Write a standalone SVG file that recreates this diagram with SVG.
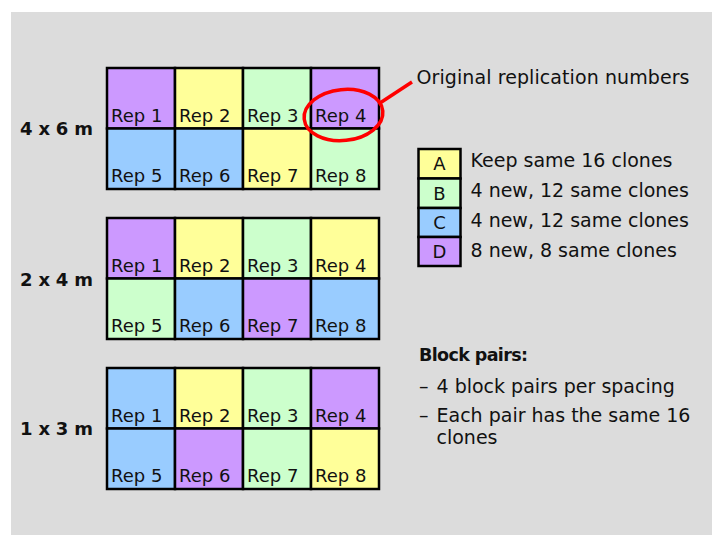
<svg xmlns="http://www.w3.org/2000/svg" width="712" height="535" viewBox="0 0 712 535">
<style>
text{font-family:"DejaVu Sans","Liberation Sans",sans-serif;font-size:18px;fill:#111}
.b{font-weight:bold}
.t{font-size:19px}
.c{stroke:#000;stroke-width:2.5}
.p{fill:#CC99FF}.y{fill:#FFFF99}.g{fill:#CCFFCC}.u{fill:#99CCFF}
.m{text-anchor:middle}
</style>
<rect x="0" y="0" width="712" height="535" fill="#fff"/>
<rect x="11" y="12" width="701" height="523" fill="#DCDCDC"/>

<g id="grid-4x6">
<text class="b" x="20" y="135" textLength="73">4 x 6 m</text>
<rect class="c p" x="107" y="68" width="68" height="60.5"/><text x="111" y="121.5">Rep 1</text>
<rect class="c y" x="175" y="68" width="68" height="60.5"/><text x="179" y="121.5">Rep 2</text>
<rect class="c g" x="243" y="68" width="68" height="60.5"/><text x="247" y="121.5">Rep 3</text>
<rect class="c p" x="311" y="68" width="68" height="60.5"/><text x="315" y="121.5">Rep 4</text>
<rect class="c u" x="107" y="128.5" width="68" height="60.5"/><text x="111" y="182">Rep 5</text>
<rect class="c u" x="175" y="128.5" width="68" height="60.5"/><text x="179" y="182">Rep 6</text>
<rect class="c y" x="243" y="128.5" width="68" height="60.5"/><text x="247" y="182">Rep 7</text>
<rect class="c g" x="311" y="128.5" width="68" height="60.5"/><text x="315" y="182">Rep 8</text>
</g>

<g id="grid-2x4">
<text class="b" x="20" y="286" textLength="73">2 x 4 m</text>
<rect class="c p" x="107" y="218" width="68" height="60.5"/><text x="111" y="271.5">Rep 1</text>
<rect class="c y" x="175" y="218" width="68" height="60.5"/><text x="179" y="271.5">Rep 2</text>
<rect class="c g" x="243" y="218" width="68" height="60.5"/><text x="247" y="271.5">Rep 3</text>
<rect class="c y" x="311" y="218" width="68" height="60.5"/><text x="315" y="271.5">Rep 4</text>
<rect class="c g" x="107" y="278.5" width="68" height="60.5"/><text x="111" y="332">Rep 5</text>
<rect class="c u" x="175" y="278.5" width="68" height="60.5"/><text x="179" y="332">Rep 6</text>
<rect class="c p" x="243" y="278.5" width="68" height="60.5"/><text x="247" y="332">Rep 7</text>
<rect class="c u" x="311" y="278.5" width="68" height="60.5"/><text x="315" y="332">Rep 8</text>
</g>

<g id="grid-1x3">
<text class="b" x="20" y="435" textLength="73">1 x 3 m</text>
<rect class="c u" x="107" y="368" width="68" height="60.5"/><text x="111" y="421.5">Rep 1</text>
<rect class="c y" x="175" y="368" width="68" height="60.5"/><text x="179" y="421.5">Rep 2</text>
<rect class="c g" x="243" y="368" width="68" height="60.5"/><text x="247" y="421.5">Rep 3</text>
<rect class="c p" x="311" y="368" width="68" height="60.5"/><text x="315" y="421.5">Rep 4</text>
<rect class="c u" x="107" y="428.5" width="68" height="60.5"/><text x="111" y="482">Rep 5</text>
<rect class="c p" x="175" y="428.5" width="68" height="60.5"/><text x="179" y="482">Rep 6</text>
<rect class="c g" x="243" y="428.5" width="68" height="60.5"/><text x="247" y="482">Rep 7</text>
<rect class="c y" x="311" y="428.5" width="68" height="60.5"/><text x="315" y="482">Rep 8</text>
</g>

<g id="callout">
<ellipse cx="343.5" cy="115" rx="39.5" ry="25.5" fill="none" stroke="#FF0000" stroke-width="3.5" transform="rotate(-6 343.5 115)"/>
<line x1="380" y1="103" x2="412" y2="82" stroke="#FF0000" stroke-width="3.5"/>
<text class="t" x="416.5" y="84" textLength="273">Original replication numbers</text>
</g>

<g id="legend">
<rect class="c y" x="418.5" y="149" width="42" height="29.5"/><text class="m" x="439.5" y="170">A</text>
<rect class="c g" x="418.5" y="178.5" width="42" height="29.5"/><text class="m" x="439.5" y="199.5">B</text>
<rect class="c u" x="418.5" y="208" width="42" height="29"/><text class="m" x="439.5" y="229">C</text>
<rect class="c p" x="418.5" y="237" width="42" height="29"/><text class="m" x="439.5" y="258">D</text>
<text class="t" x="470.5" y="167">Keep same 16 clones</text>
<text class="t" x="470.5" y="197">4 new, 12 same clones</text>
<text class="t" x="470.5" y="227">4 new, 12 same clones</text>
<text class="t" x="470.5" y="256.5">8 new, 8 same clones</text>
</g>

<g id="notes">
<text class="b" x="419" y="360.5" style="font-size:17.5px" textLength="109">Block pairs:</text>
<text class="t" x="419" y="393">–</text><text class="t" x="436.5" y="393">4 block pairs per spacing</text>
<text class="t" x="419" y="421.5">–</text><text class="t" x="436.5" y="421.5">Each pair has the same 16</text>
<text class="t" x="436.5" y="443.5">clones</text>
</g>
</svg>
